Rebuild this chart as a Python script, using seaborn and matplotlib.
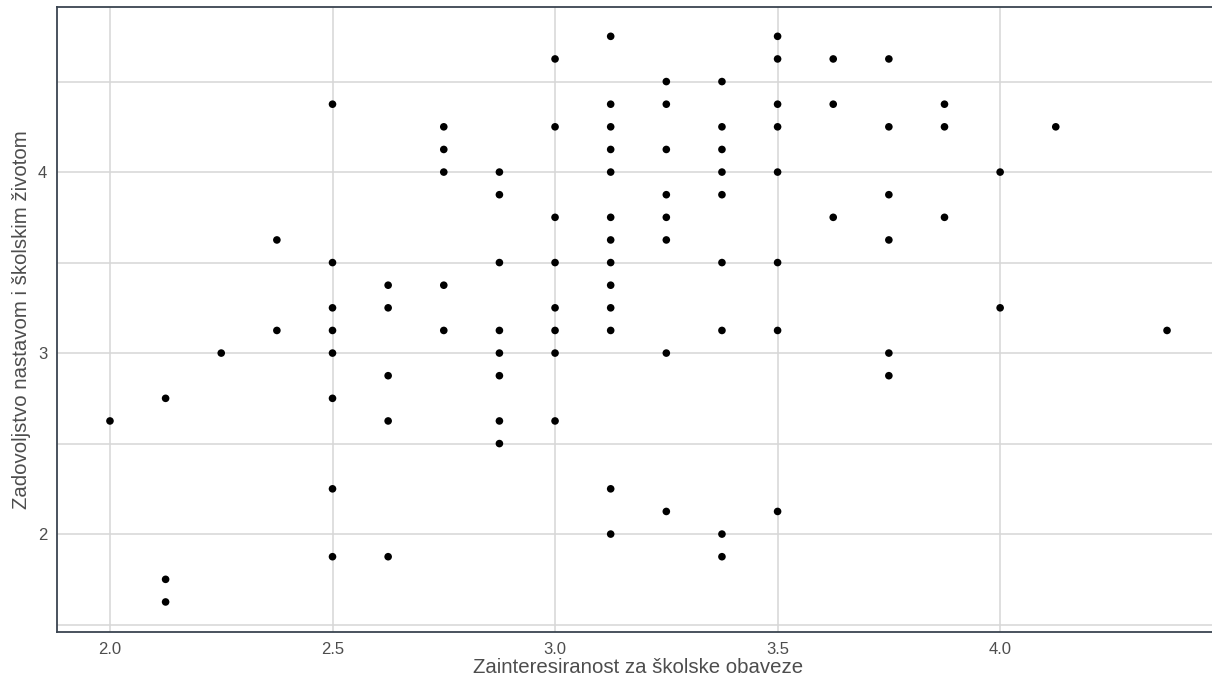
"""Scatter: interest in school duties vs satisfaction with school life."""

import matplotlib.pyplot as plt
import seaborn as sns
import numpy as np
import pandas as pd


# Data (x = interest, y = satisfaction)
zainteresiranost = [
    2.0,
    2.125, 2.125, 2.125,
    2.25,
    2.375, 2.375,
    2.5, 2.5, 2.5, 2.5, 2.5, 2.5, 2.5, 2.5,
    2.625, 2.625, 2.625, 2.625, 2.625,
    2.75, 2.75, 2.75, 2.75, 2.75,
    2.875, 2.875, 2.875, 2.875, 2.875, 2.875, 2.875, 2.875,
    3.0, 3.0, 3.0, 3.0, 3.0, 3.0, 3.0, 3.0,
    3.125, 3.125, 3.125, 3.125, 3.125, 3.125, 3.125, 3.125, 3.125, 3.125, 3.125, 3.125, 3.125,
    3.25, 3.25, 3.25, 3.25, 3.25, 3.25, 3.25, 3.25,
    3.375, 3.375, 3.375, 3.375, 3.375, 3.375, 3.375, 3.375, 3.375,
    3.5, 3.5, 3.5, 3.5, 3.5, 3.5, 3.5, 3.5,
    3.625, 3.625, 3.625,
    3.75, 3.75, 3.75, 3.75, 3.75, 3.75,
    3.875, 3.875, 3.875,
    4.0, 4.0,
    4.125,
    4.375,
]
zadovoljstvo = [
    2.625,
    2.75, 1.75, 1.625,
    3.0,
    3.625, 3.125,
    4.375, 3.5, 3.25, 3.125, 3.0, 2.75, 2.25, 1.875,
    3.375, 3.25, 2.875, 2.625, 1.875,
    4.25, 4.125, 4.0, 3.375, 3.125,
    4.0, 3.875, 3.5, 3.125, 3.0, 2.875, 2.625, 2.5,
    4.625, 4.25, 3.75, 3.5, 3.25, 3.125, 3.0, 2.625,
    4.75, 4.375, 4.25, 4.125, 4.0, 3.75, 3.625, 3.5, 3.375, 3.25, 3.125, 2.25, 2.0,
    4.5, 4.375, 4.125, 3.875, 3.75, 3.625, 3.0, 2.125,
    4.5, 4.25, 4.125, 4.0, 3.875, 3.5, 3.125, 2.0, 1.875,
    4.75, 4.625, 4.375, 4.25, 4.0, 3.5, 3.125, 2.125,
    4.625, 4.375, 3.75,
    4.625, 4.25, 3.875, 3.625, 3.0, 2.875,
    4.375, 4.25, 3.75,
    4.0, 3.25,
    4.25,
    3.125,
]
x_ticks = [2.0, 2.5, 3.0, 3.5, 4.0]
y_ticks = [2, 3, 4]
y_grid = [1.5, 2, 2.5, 3, 3.5, 4, 4.5]

df = pd.DataFrame({'x': zainteresiranost, 'y': zadovoljstvo})

sns.set_style('white')
plt.rcParams['font.family'] = ['Liberation Sans', 'DejaVu Sans']

fig = plt.figure(figsize=(12.12, 6.83), dpi=100)
ax = fig.add_axes([57 / 1212, 51 / 683, 1163 / 1212, 625 / 683])

grid_col = '#d6d6d6'
for v in x_ticks:
    ax.axvline(v, color=grid_col, lw=1.1, zorder=0)
for v in y_grid:
    ax.axhline(v, color=grid_col, lw=1.1, zorder=0)

sns.scatterplot(data=df, x='x', y='y', color='black', s=30,
                edgecolor='none', ax=ax, zorder=3)

ax.set_xlim(1.881, 4.494)
ax.set_ylim(1.459, 4.912)
ax.set_xticks(x_ticks)
ax.set_xticklabels([f'{v:.1f}' for v in x_ticks])
ax.set_yticks(y_ticks)
ax.set_yticklabels([str(v) for v in y_ticks])

ax.tick_params(axis='both', labelcolor='#4d4d4d', labelsize=12, length=4,
               width=1.0, direction='out', pad=3, color='#b0b0b0')

for side in ['left', 'top', 'bottom', 'right']:
    ax.spines[side].set_color('#3a4450')
    ax.spines[side].set_linewidth(1.3)

ax.set_xlabel('Zainteresiranost za školske obaveze', fontsize=14.7,
              color='#4d4d4d', labelpad=1)
ax.set_ylabel('Zadovoljstvo nastavom i školskim životom', fontsize=14.7,
              color='#4d4d4d', labelpad=5)

plt.savefig('out.png', dpi=100)
